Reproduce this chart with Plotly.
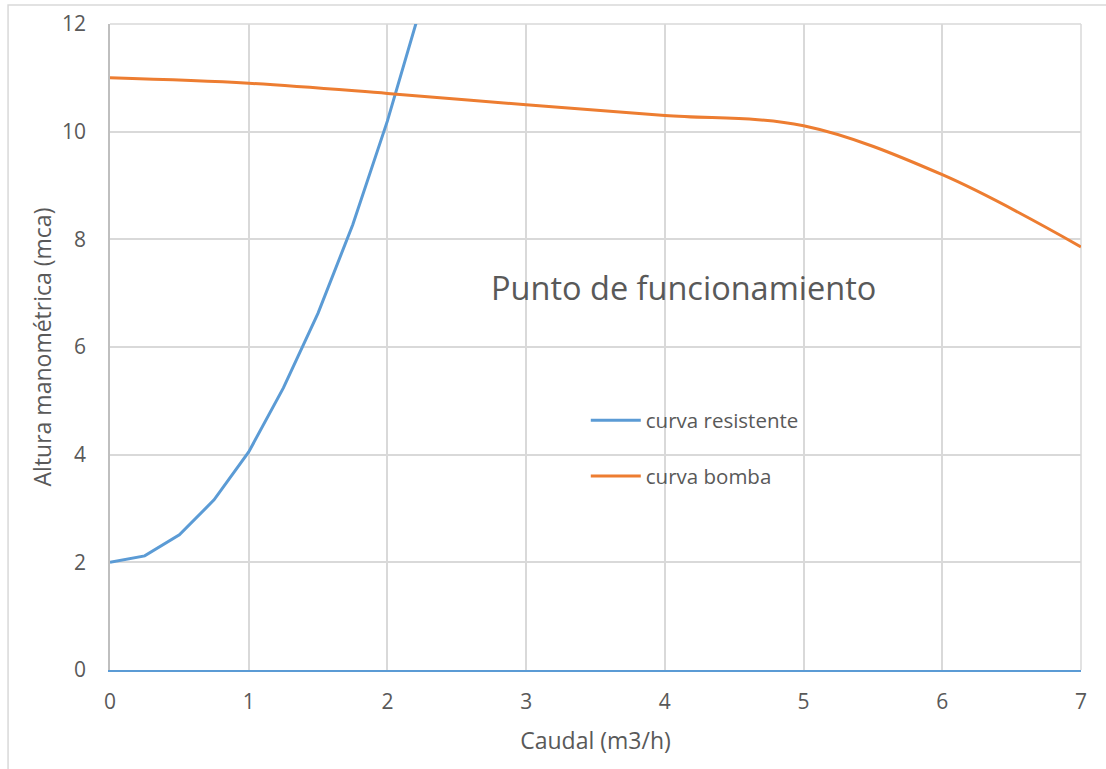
import plotly.graph_objects as go

# Curva resistente de la instalación (caudal m3/h, altura mca)
caudal_resistente = [0, 0.25, 0.5, 0.75, 1.0, 1.25, 1.5, 1.75, 2.0, 2.25]
altura_resistente = [2.0, 2.12, 2.51, 3.16, 4.05, 5.24, 6.63, 8.27, 10.2, 12.4]

# Curva característica de la bomba
caudal_bomba = [0, 1, 2, 3, 4, 5, 6, 7]
altura_bomba = [11.0, 10.9, 10.71, 10.5, 10.3, 10.11, 9.2, 7.86]

x_ticks = [0, 1, 2, 3, 4, 5, 6, 7]
y_ticks = [0, 2, 4, 6, 8, 10, 12]

BLUE = "#5B9BD5"
ORANGE = "#ED7D31"
TEXT = "#595959"
GRID = "#D9D9D9"
FONT = "Open Sans"

fig = go.Figure()
fig.add_trace(go.Scatter(
    x=caudal_resistente, y=altura_resistente, mode="lines",
    name="curva resistente", legendgroup="a",
    line=dict(color=BLUE, width=3),
))
fig.add_trace(go.Scatter(
    x=caudal_bomba, y=altura_bomba, mode="lines",
    name="curva bomba", legendgroup="b",
    line=dict(color=ORANGE, width=3, shape="spline", smoothing=1),
))

fig.add_annotation(
    x=0.591, y=0.592, xref="paper", yref="paper",
    text="Punto de funcionamiento", showarrow=False,
    font=dict(family=FONT, size=32.5, color=TEXT),
)

# Marco exterior del gráfico
fig.add_shape(
    type="rect", xref="paper", yref="paper",
    x0=-0.105, y0=-0.2, x1=1.1, y1=1.0294,
    line=dict(color="#D9D9D9", width=1.5), layer="below",
)

fig.update_layout(
    width=1106, height=769,
    margin=dict(l=110, r=25, t=24, b=99),
    paper_bgcolor="white", plot_bgcolor="white",
    font=dict(family=FONT, size=21, color=TEXT),
    showlegend=True,
    legend=dict(
        x=0.49, y=0.343, xanchor="left", yanchor="middle",
        bgcolor="rgba(0,0,0,0)", tracegroupgap=26,
        font=dict(family=FONT, size=20.5, color=TEXT),
        itemwidth=50,
    ),
    xaxis=dict(
        range=[0, 7], tickvals=x_ticks, showgrid=True, gridcolor=GRID, gridwidth=1.5,
        zeroline=False, showline=True, linecolor=BLUE, linewidth=2,
        ticks="", ticklabelstandoff=12, automargin=False,
        title=dict(text="Caudal (m3/h)", standoff=19, font=dict(size=23)),
        tickfont=dict(size=21),
    ),
    yaxis=dict(
        range=[0, 12], tickvals=y_ticks, showgrid=True, gridcolor=GRID, gridwidth=1.5,
        zeroline=False, showline=True, linecolor="#BFBFBF", linewidth=1.5,
        ticks="", ticklabelstandoff=18, automargin=False,
        title=dict(text="Altura manométrica (mca)", standoff=4, font=dict(size=23)),
        tickfont=dict(size=21),
    ),
)

# Rejilla derecha y superior del área de trazado
fig.add_shape(type="line", xref="paper", yref="paper", x0=1, x1=1, y0=0, y1=1,
              line=dict(color=GRID, width=1.5), layer="below")
fig.add_shape(type="line", xref="paper", yref="paper", x0=0, x1=1, y0=1, y1=1,
              line=dict(color=GRID, width=1.5), layer="below")

fig.write_html("out.html")
